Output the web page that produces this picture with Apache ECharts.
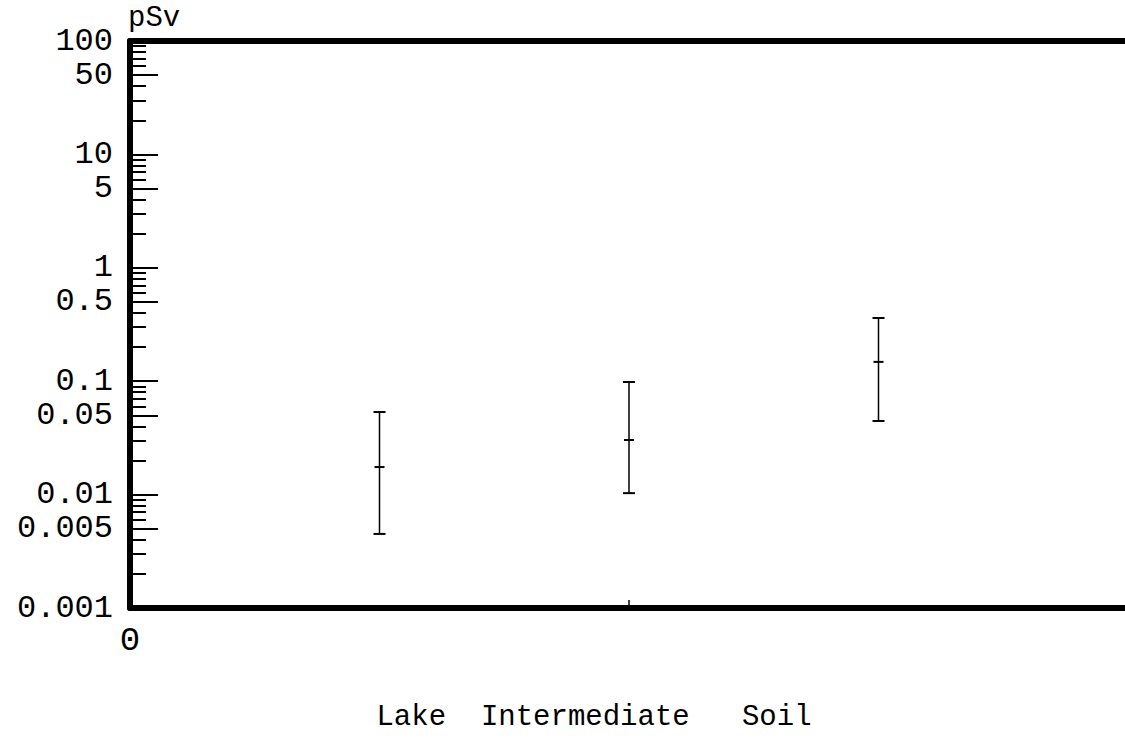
<!DOCTYPE html>
<html>
<head>
<meta charset="utf-8">
<script src="https://cdn.jsdelivr.net/npm/echarts@6/dist/echarts.min.js"></script>
<style>
  html, body { margin: 0; padding: 0; background: #fff; }
  #chart { width: 1125px; height: 740px; }
</style>
</head>
<body>
<div id="chart"></div>
<script>
// Sample groups placed along the x axis
const categories = ['Lake', 'Intermediate', 'Soil'];
const categoryX = [1, 2, 3];

// Dose range per group (pSv): lower end, central value, upper end
const lowValues = [0.0045, 0.0103, 0.0446];
const midValues = [0.0175, 0.0303, 0.148];
const highValues = [0.0535, 0.0984, 0.361];

// Labelled (long) ticks on the logarithmic dose axis
const labeledTicks = [0.001, 0.005, 0.01, 0.05, 0.1, 0.5, 1, 5, 10, 50, 100];
const tickLabels = ['0.001', '0.005', '0.01', '0.05', '0.1', '0.5', '1', '5', '10', '50', '100'];

// Unlabelled (short) ticks between the labelled ones
const minorTicks = [
  0.002, 0.003, 0.004, 0.006, 0.007, 0.008, 0.009,
  0.02, 0.03, 0.04, 0.06, 0.07, 0.08, 0.09,
  0.2, 0.3, 0.4, 0.6, 0.7, 0.8, 0.9,
  2, 3, 4, 6, 7, 8, 9,
  20, 30, 40, 60, 70, 80, 90
];

const FONT = '"Liberation Mono", "DejaVu Sans Mono", monospace';
const INK = '#000';

function labelFor(v) {
  for (let i = 0; i < labeledTicks.length; i++) {
    if (Math.abs(Math.log10(v) - Math.log10(labeledTicks[i])) < 1e-6) return tickLabels[i];
  }
  return '';
}

const barData = categoryX.map((x, i) => [x, lowValues[i], midValues[i], highValues[i]]);

function renderErrorBar(params, api) {
  const x = api.value(0);
  const lo = api.coord([x, api.value(1)]);
  const mi = api.coord([x, api.value(2)]);
  const hi = api.coord([x, api.value(3)]);
  const cap = 6;
  const mid = 5;
  const s = { stroke: INK, lineWidth: 2 };
  return {
    type: 'group',
    children: [
      { type: 'line', shape: { x1: hi[0], y1: hi[1], x2: lo[0], y2: lo[1] }, style: { stroke: INK, lineWidth: 1.5 } },
      { type: 'line', shape: { x1: hi[0] - cap, y1: hi[1], x2: hi[0] + cap, y2: hi[1] }, style: s },
      { type: 'line', shape: { x1: lo[0] - cap, y1: lo[1], x2: lo[0] + cap, y2: lo[1] }, style: s },
      { type: 'line', shape: { x1: mi[0] - mid, y1: mi[1], x2: mi[0] + mid, y2: mi[1] }, style: s }
    ]
  };
}

const chart = echarts.init(document.getElementById('chart'), null, { renderer: 'svg' });

chart.setOption({
  animation: false,
  backgroundColor: '#fff',
  grid: {
    left: 130, right: -3, top: 41, bottom: 132,
    outerBoundsMode: 'none',
    containLabel: false,
    show: false
  },
  xAxis: [
    {
      type: 'value',
      min: 0, max: 4, interval: 2,
      name: categories.join('  ').replace('Intermediate  ', 'Intermediate   '),
      nameLocation: 'middle',
      nameGap: 95,
      nameTextStyle: { fontFamily: FONT, fontSize: 29, color: INK, padding: [0, 70, 0, 0] },
      axisLine: { show: true, lineStyle: { color: INK, width: 6 } },
      axisTick: { show: true, inside: true, length: 8, lineStyle: { color: INK, width: 1.5 } },
      axisLabel: {
        margin: 16,
        fontFamily: FONT, fontSize: 34, color: INK,
        formatter: v => (v === 0 ? '0' : '')
      },
      splitLine: { show: false }
    },
    {
      // upper frame line of the plot
      type: 'value',
      position: 'top',
      min: 0, max: 4,
      axisLine: { show: true, lineStyle: { color: INK, width: 6 } },
      axisTick: { show: false },
      axisLabel: { show: false },
      splitLine: { show: false }
    }
  ],
  yAxis: [
    {
      type: 'log', logBase: 10,
      min: 0.001, max: 100,
      name: 'pSv',
      nameLocation: 'end',
      nameGap: 8,
      nameTextStyle: { fontFamily: FONT, fontSize: 29, color: INK, align: 'left', verticalAlign: 'bottom', padding: [0, 0, 0, -2] },
      axisLine: { show: true, lineStyle: { color: INK, width: 6 } },
      axisTick: { show: true, inside: true, length: 28, customValues: labeledTicks, lineStyle: { color: INK, width: 2 } },
      axisLabel: {
        customValues: labeledTicks,
        margin: 17,
        fontFamily: FONT, fontSize: 32, color: INK,
        formatter: v => labelFor(v)
      },
      splitLine: { show: false }
    },
    {
      type: 'log', logBase: 10,
      min: 0.001, max: 100,
      position: 'left',
      axisLine: { show: false },
      axisTick: { show: true, inside: true, length: 16, customValues: minorTicks, lineStyle: { color: INK, width: 2 } },
      axisLabel: { show: false },
      splitLine: { show: false }
    }
  ],
  series: [
    {
      type: 'custom',
      name: 'dose',
      xAxisIndex: 0,
      yAxisIndex: 0,
      renderItem: renderErrorBar,
      encode: { x: 0, y: [1, 2, 3] },
      data: barData,
      clip: false
    }
  ]
});
</script>
</body>
</html>
